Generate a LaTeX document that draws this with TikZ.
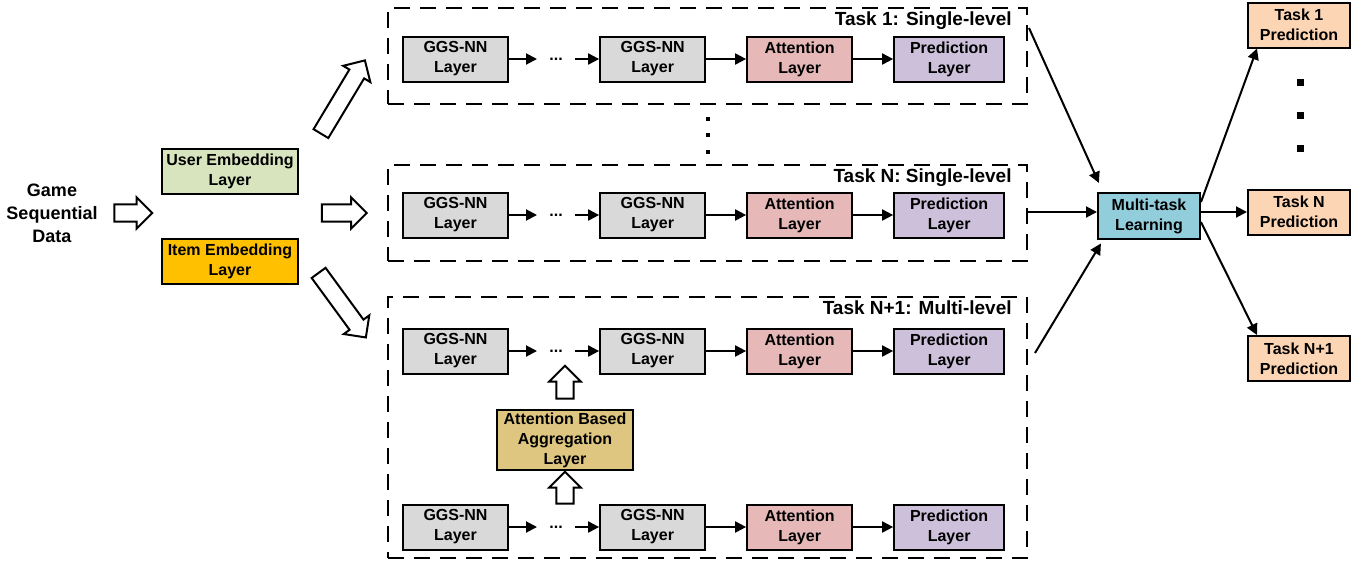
\documentclass[tikz,border=0pt]{standalone}
\usepackage{fontspec}
\setmainfont{Liberation Sans}
\usepackage{xcolor}
\usetikzlibrary{arrows.meta, positioning, shapes.arrows, calc}

\definecolor{ggsgray}{RGB}{217,217,217}
\definecolor{attred}{RGB}{230,185,184}
\definecolor{predpurple}{RGB}{204,192,218}
\definecolor{usergreen}{RGB}{215,228,189}
\definecolor{itemorange}{RGB}{255,192,0}
\definecolor{agggold}{RGB}{222,198,128}
\definecolor{mtlblue}{RGB}{146,205,220}
\definecolor{outpeach}{RGB}{252,213,180}

\tikzset{%
  layer/.style={draw, line width=1pt, minimum width=52.5pt, minimum height=22.5pt,
    inner sep=0pt, align=center, font=\fontsize{8}{10}\selectfont\bfseries},
  ggs/.style={layer, fill=ggsgray},
  att/.style={layer, fill=attred},
  pred/.style={layer, fill=predpurple, minimum width=55pt},
  embed/.style={layer, minimum width=68pt},
  outbox/.style={layer, fill=outpeach, minimum width=51pt},
  taskbox/.style={draw, line width=1pt, dash pattern=on 8pt off 5pt,
    minimum width=319.5pt, inner sep=0pt},
  tasklabel/.style={font=\fontsize{9.5}{11}\selectfont\bfseries, anchor=north east, inner sep=1pt},
  ellip/.style={font=\fontsize{8}{10}\selectfont\bfseries, inner xsep=6pt, inner ysep=1pt},
  move/.style={->, line width=1pt},
  hollow/.style={single arrow, draw, line width=1pt, fill=white, inner sep=3.8pt,
    single arrow head extend=3.6pt, single arrow head indent=0pt},
  sqdot/.style={fill=black, minimum size=3.5pt, inner sep=0pt},
  >={Triangle[length=5.5pt, width=5.5pt]}
}

\begin{document}
\begin{tikzpicture}[x=0.5pt, y=-0.5pt]
  \useasboundingbox (0,0) rectangle (1367,569);

  \node[font=\fontsize{9}{11.5}\selectfont\bfseries, align=center] (gsd) at (52,213) {Game\\Sequential\\Data};
  \node[embed, fill=usergreen] (user) at (230,171.5) {User Embedding\\Layer};
  \node[embed, fill=itemorange] (item) at (230,261) {Item Embedding\\Layer};

  % hollow arrows
  \node[hollow, minimum height=19pt] (h0) at (129,213) {};
  \node[hollow, minimum height=22.5pt] (h1) at (340,213) {};
  \node[hollow, minimum height=42.7pt, rotate=59] (h2) at (340.7,100.7) {};
  \node[hollow, minimum height=40pt, rotate=-53.8] (h3) at (339.7,301.7) {};

  % task boxes
  \node[taskbox, minimum height=48pt] (t1) at (707.5,56) {};
  \node[taskbox, minimum height=48pt] (tn) at (707.5,213) {};
  \node[taskbox, minimum height=130.5pt] (tm) at (707.5,427.5) {};
  \node[tasklabel] at ([xshift=-7pt, yshift=-1pt]t1.north east) {Task 1: Single-level};
  \node[tasklabel] at ([xshift=-7pt, yshift=-1pt]tn.north east) {Task N: Single-level};
  \node[tasklabel] at ([xshift=-7pt, yshift=-1pt]tm.north east) {Task N+1: Multi-level};

  \foreach \r/\y in {a/59, b/215, c/351, d/527} {
    \node[ggs] (g1\r) at (455.5,\y) {GGS-NN\\Layer};
    \node[ellip, right=14pt of g1\r] (e\r) {...};
    \node[ggs, right=12pt of e\r] (g2\r) {GGS-NN\\Layer};
    \node[att, right=20pt of g2\r] (a\r) {Attention\\Layer};
    \node[pred, right=20pt of a\r] (p\r) {Prediction\\Layer};
    \draw[move] (g1\r) -- (e\r);
    \draw[move] (e\r) -- (g2\r);
    \draw[move] (g2\r) -- (a\r);
    \draw[move] (a\r) -- (p\r);
  }

  \node[embed, fill=agggold, minimum height=30pt] (agg) at (565,440) {Attention Based\\Aggregation\\Layer};
  \node[hollow, minimum height=16.5pt, rotate=90] (h4) at (565,386.5) {};
  \node[hollow, minimum height=16pt, rotate=90] (h5) at (565,492) {};

  \foreach \y in {119,135,152}
    \node[sqdot, minimum size=2pt] at (708,\y) {};

  % multi-task part
  \node[layer, fill=mtlblue, minimum width=51pt, minimum height=23pt] (mtl) at (1149,216) {Multi-task\\Learning};
  \node[outbox] (o1) at (1299,25) {Task 1\\Prediction};
  \node[outbox] (on) at (1299,212) {Task N\\Prediction};
  \node[outbox] (om) at (1299,358.5) {Task N+1\\Prediction};
  \foreach \y in {82,115,148}
    \node[sqdot] at (1300,\y) {};

  \coordinate (from1) at (1029,28);
  \coordinate (fromn) at (1028,212);
  \coordinate (fromm) at (1035,353);
  \draw[move, shorten >=5pt] (from1) -- ([xshift=3pt]mtl.north west);
  \draw[move] (fromn) -- (mtl.west |- fromn);
  \draw[move, shorten >=2pt] (fromm) -- ([xshift=3pt]mtl.south west);

  \draw[move] ([yshift=7pt]mtl.east) -- ([xshift=5pt]o1.south west);
  \draw[move] (mtl.east |- on.west) -- (on.west);
  \draw[move] ([yshift=-3pt]mtl.east) -- ([xshift=5pt]om.north west);
\end{tikzpicture}
\end{document}
